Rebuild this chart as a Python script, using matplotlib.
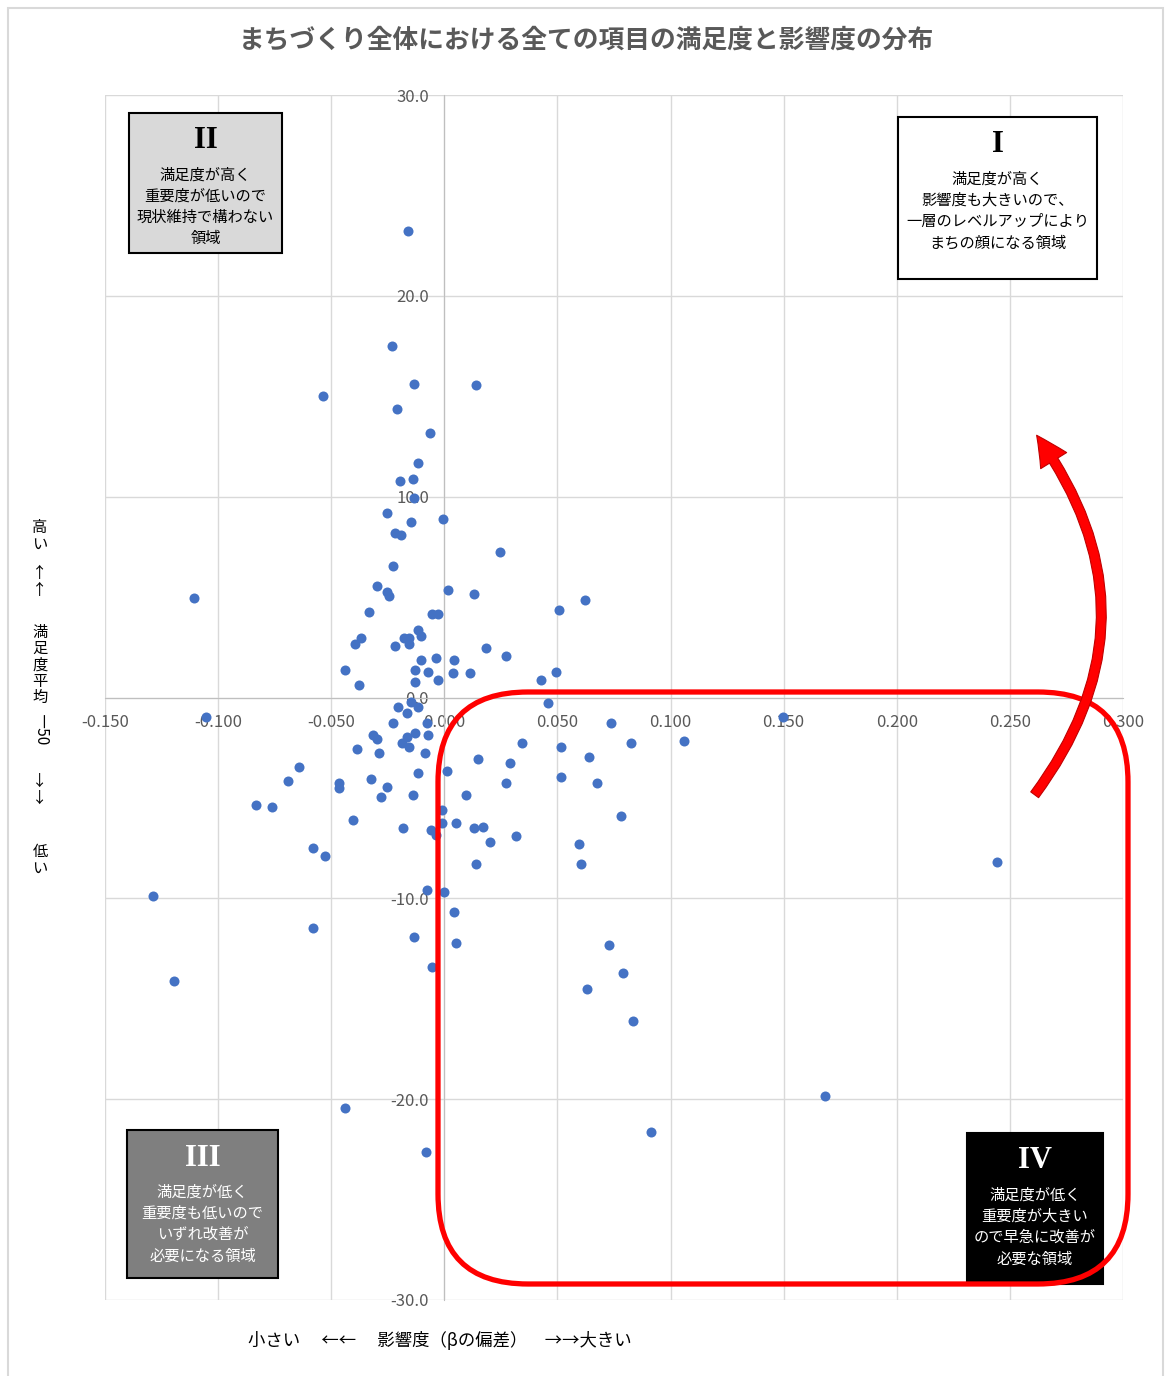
import matplotlib
matplotlib.use("Agg")
import matplotlib.pyplot as plt
from matplotlib.patches import FancyBboxPatch, FancyArrowPatch, Rectangle
from matplotlib.ticker import FormatStrFormatter
import numpy as np

plt.rcParams['font.family'] = ['Noto Sans CJK JP', 'DejaVu Sans']

# influence (x) and satisfaction - 50 (y)
influence = [
    -0.0160, -0.0231, -0.0134, 0.0140, -0.0536, -0.0209, -0.0063, -0.0116, -0.0196, -0.0138,
    -0.0134, -0.0253, -0.0147, -0.0006, -0.0218, -0.0191, 0.0246, -0.0227, 0.0016, -0.0297,
    -0.0253, -0.0244, 0.0131, -0.1106, 0.0507, 0.0622, -0.0333, -0.0054, -0.0028, -0.0116,
    -0.0178, -0.0156, -0.0103, -0.0368, -0.0395, -0.0218, -0.0156, 0.0184, 0.0273, -0.0103,
    -0.0037, 0.0043, -0.0439, -0.0130, -0.0072, 0.0038, 0.0114, -0.0377, -0.0130, -0.0028,
    0.0427, 0.0494, 0.0458, -0.0205, -0.0165, -0.0116, -0.0147, -0.0227, -0.0076, -0.0315,
    -0.0297, -0.0165, -0.0130, -0.0072, -0.0187, -0.0156, -0.0386, -0.0289, -0.0085, 0.0343,
    0.0149, 0.0290, 0.0012, -0.0116, -0.0465, -0.0465, -0.0324, -0.0253, -0.0280, -0.0138,
    0.0096, 0.0273, -0.0010, -0.0010, 0.0052, -0.0404, -0.0183, -0.0059, -0.0037, 0.0131,
    0.0171, 0.0202, 0.0317, 0.0140, -0.0076, -0.0001, -0.1053, 0.0737, 0.1060, 0.0825,
    0.1497, 0.0516, 0.0640, 0.0675, 0.0516, 0.0781, 0.0595, 0.0604, 0.2443, -0.1287,
    0.0043, -0.0581, -0.0134, 0.0052, 0.0728, -0.0054, 0.0790, -0.1195, 0.0631, 0.0834,
    0.1683, -0.0439, 0.0914, -0.0081, -0.0581, -0.0527, -0.0832, -0.0761, -0.0642, -0.0691,
]
satisfaction = [
    23.23, 17.50, 15.61, 15.56, 15.00, 14.37, 13.17, 11.68, 10.78, 10.88,
    9.94, 9.19, 8.74, 8.89, 8.19, 8.09, 7.25, 6.55, 5.35, 5.55,
    5.25, 5.05, 5.15, 4.96, 4.36, 4.86, 4.26, 4.16, 4.16, 3.36,
    2.96, 2.96, 3.06, 2.96, 2.66, 2.56, 2.66, 2.47, 2.07, 1.87,
    1.97, 1.87, 1.37, 1.37, 1.27, 1.22, 1.22, 0.62, 0.77, 0.87,
    0.87, 1.27, -0.27, -0.47, -0.77, -0.47, -0.22, -1.27, -1.27, -1.87,
    -2.07, -1.97, -1.77, -1.87, -2.27, -2.47, -2.56, -2.76, -2.76, -2.27,
    -3.06, -3.26, -3.66, -3.76, -4.26, -4.51, -4.06, -4.46, -4.96, -4.86,
    -4.86, -4.26, -5.60, -6.25, -6.25, -6.10, -6.50, -6.60, -6.85, -6.50,
    -6.45, -7.20, -6.90, -8.29, -9.59, -9.69, -0.97, -1.27, -2.17, -2.27,
    -0.97, -2.47, -2.96, -4.26, -3.96, -5.90, -7.30, -8.29, -8.19, -9.88,
    -10.68, -11.48, -11.93, -12.24, -12.33, -13.42, -13.72, -14.12, -14.52, -16.11,
    -19.85, -20.44, -21.64, -22.63, -7.49, -7.89, -5.35, -5.45, -3.46, -4.16,
]

x_ticks = np.arange(-0.15, 0.30001, 0.05)
y_ticks = np.arange(-30, 30.001, 10)

title = "まちづくり全体における全ての項目の満足度と影響度の分布"
xlabel = "小さい　 ←←　 影響度（βの偏差）　→→大きい"

# quadrant notes: numeral, lines, fill, text colour, box in pixels (left, top, right, bottom)
quadrants = [
    ("II", ["満足度が高く", "重要度が低いので", "現状維持で構わない", "領域"], "#d9d9d9", "black", (129, 113, 282, 253)),
    ("I", ["満足度が高く", "影響度も大きいので、", "一層のレベルアップにより", "まちの顔になる領域"], "white", "black", (898, 117, 1097, 279)),
    ("III", ["満足度が低く", "重要度も低いので", "いずれ改善が", "必要になる領域"], "#7f7f7f", "white", (127, 1130, 278, 1278)),
    ("IV", ["満足度が低く", "重要度が大きい", "ので早急に改善が", "必要な領域"], "black", "white", (967, 1133, 1103, 1284)),
]

W, H = 1165, 1376
fig = plt.figure(figsize=(W / 100, H / 100), dpi=100)


def fx(px):
    return px / W


def fy(py):
    return 1 - py / H


# light frame round the whole chart
fig.add_artist(Rectangle((fx(8), fy(1390)), fx(1163) - fx(8), fy(8) - fy(1390),
                         transform=fig.transFigure, fill=False, ec="#d9d9d9", lw=1.5))

ax = fig.add_axes([fx(105), fy(1300), fx(1123) - fx(105), fy(95) - fy(1300)])
ax.scatter(influence, satisfaction, s=52, color="#4472c4", zorder=3, linewidths=0)

ax.set_xlim(-0.15, 0.30)
ax.set_ylim(-30, 30)
ax.set_xticks(x_ticks)
ax.set_yticks(y_ticks)
ax.xaxis.set_major_formatter(FormatStrFormatter('%.3f'))
ax.yaxis.set_major_formatter(FormatStrFormatter('%.1f'))
ax.grid(True, color="#d9d9d9", lw=1.0, zorder=0)
ax.spines['left'].set_position('zero')
ax.spines['bottom'].set_position('zero')
ax.spines['left'].set_color("#bfbfbf")
ax.spines['bottom'].set_color("#bfbfbf")
ax.spines['top'].set_visible(False)
ax.spines['right'].set_visible(False)
ax.tick_params(length=0, labelsize=12, labelcolor="#595959")
ax.tick_params(axis='x', pad=12)
ax.tick_params(axis='y', pad=11)
for lab in ax.get_xticklabels() + ax.get_yticklabels():
    lab.set_zorder(4)

fig.text(fx(586), fy(40), title, ha="center", va="center", fontsize=18.5,
         fontweight="bold", color="#595959")
fig.text(fx(440), fy(1340), xlabel, ha="center", va="center", fontsize=12.5)

# vertical y label, stacked characters
for chunk, cy in [("高\nい", 536), ("↑\n↑", 582), ("満\n足\n度\n平\n均", 665),
                  ("↓\n↓", 790), ("低\nい", 860)]:
    fig.text(fx(40), fy(cy), chunk, ha="center", va="center", fontsize=11,
             linespacing=0.95)
fig.text(fx(40), fy(730), "―50", ha="center", va="center", fontsize=11, rotation=-90)

for numeral, lines, fill, tc, (l, t, r, b) in quadrants:
    fig.add_artist(Rectangle((fx(l), fy(b)), fx(r) - fx(l), fy(t) - fy(b),
                             transform=fig.transFigure, fc=fill, ec="black", lw=1.5, zorder=5))
    cx = (l + r) / 2
    fig.text(fx(cx), fy(t + 28), numeral, ha="center", va="center", fontsize=22,
             family="Liberation Serif", fontweight="bold", color=tc, zorder=6)
    for i, line in enumerate(lines):
        fig.text(fx(cx), fy(t + 62 + 21.3 * i), line, ha="center", va="center",
                 fontsize=11, color=tc, zorder=6)

# red rounded frame over quadrant IV
R = 90
fig.add_artist(FancyBboxPatch((fx(438), fy(1284)), fx(1128) - fx(438), fy(692) - fy(1284),
                              boxstyle=f"round,pad=0,rounding_size={R / W}",
                              mutation_aspect=W / H, transform=fig.transFigure,
                              fill=False, ec="#ff0000", lw=3.8, zorder=7))

# curved arrow pointing up to quadrant I
fig.add_artist(FancyArrowPatch((fx(1033), fy(797)), (fx(1035), fy(433)),
                               transform=fig.transFigure,
                               connectionstyle="arc3,rad=0.37",
                               arrowstyle="simple,head_length=1.1,head_width=1.1,tail_width=0.35",
                               mutation_scale=20, fc="#ff0000", ec="#c00000", lw=0.8, zorder=7))

fig.savefig("out.png", dpi=100)
